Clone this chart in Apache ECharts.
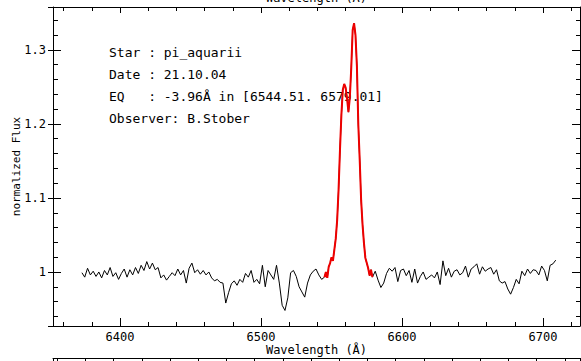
<!DOCTYPE html>
<html>
<head>
<meta charset="utf-8">
<script src="https://cdn.jsdelivr.net/npm/echarts@6/dist/echarts.min.js"></script>
<style>
  html, body { margin: 0; padding: 0; background: #fff; }
  #chart { width: 581px; height: 361px; }
</style>
</head>
<body>
<div id="chart"></div>
<script>
// wavelength (Å) and normalized flux
const WAVELENGTH = [
  6373, 6375, 6377, 6379, 6381, 6383, 6385, 6387, 6389, 6391,
  6393, 6395, 6397, 6399, 6401, 6403, 6405, 6407, 6409, 6411,
  6413, 6415, 6417, 6419, 6421, 6423, 6425, 6427, 6429, 6431,
  6433, 6435, 6437, 6439, 6441, 6443, 6445, 6447, 6449, 6451,
  6453, 6455, 6457, 6459, 6461, 6463, 6465, 6467, 6469, 6471,
  6473, 6475, 6477, 6479, 6481, 6483, 6485, 6487, 6489, 6491,
  6493, 6495, 6497, 6499, 6501, 6503, 6505, 6507, 6509, 6511,
  6513, 6515, 6517, 6519, 6521, 6523, 6525, 6527, 6529, 6531,
  6533, 6535, 6537, 6539, 6541, 6543,
  6545, 6546, 6547, 6548, 6549, 6550, 6551, 6552, 6553, 6554,
  6555, 6556, 6557, 6558, 6559, 6560, 6561, 6562, 6563, 6564,
  6565, 6566, 6567, 6568, 6569, 6570, 6571, 6572, 6573, 6574,
  6575, 6576, 6577, 6578, 6579,
  6581, 6583, 6585, 6587, 6589, 6591, 6593, 6595, 6597, 6599,
  6601, 6603, 6605, 6607, 6609, 6611, 6613, 6615, 6617, 6619,
  6621, 6623, 6625, 6627, 6629, 6631, 6633, 6635, 6637, 6639,
  6641, 6643, 6645, 6647, 6649, 6651, 6653, 6655, 6657, 6659,
  6661, 6663, 6665, 6667, 6669, 6671, 6673, 6675, 6677, 6679,
  6681, 6683, 6685, 6687, 6689, 6691, 6693, 6695, 6697, 6699,
  6701, 6703, 6705, 6707, 6709
];

const FLUX = [
  0.999, 0.993, 1.005, 0.996, 1.001, 0.994, 1.000, 0.992, 1.002, 0.996,
  1.006, 0.994, 0.999, 0.990, 0.998, 1.004, 0.993, 1.003, 0.996, 1.006,
  0.998, 1.009, 1.002, 1.014, 1.004, 1.012, 1.003, 1.006, 0.992, 0.996,
  0.989, 0.994, 0.999, 0.995, 1.004, 0.996, 1.002, 0.985, 1.005, 1.012,
  0.999, 1.003, 0.997, 1.002, 0.996, 1.000, 0.992, 0.988, 0.990, 0.986,
  0.985, 0.958, 0.972, 0.984, 0.988, 0.982, 0.990, 0.986, 0.998, 0.993,
  1.002, 0.986, 0.990, 0.984, 1.009, 0.980, 1.002, 0.996, 0.990, 1.009,
  0.985, 0.955, 0.948, 0.965, 0.999, 1.002, 0.994, 0.980, 0.973, 0.966,
  0.985, 0.996, 1.001, 1.004, 0.996, 0.990,
  0.993, 1.000, 0.992, 1.007, 1.012, 1.020, 1.015, 1.030, 1.045, 1.070,
  1.111, 1.165, 1.212, 1.246, 1.254, 1.249, 1.235, 1.216, 1.236, 1.276,
  1.327, 1.336, 1.320, 1.278, 1.199, 1.151, 1.097, 1.064, 1.039, 1.019,
  1.012, 1.005, 0.995, 1.003, 0.993,
  1.001, 0.989, 0.979, 0.985, 0.998, 1.005, 1.001, 1.006, 0.987, 1.002,
  1.004, 0.995, 1.002, 0.986, 1.004, 0.985, 0.994, 1.000, 0.990, 0.993,
  0.996, 0.992, 1.000, 0.983, 1.015, 0.995, 1.005, 0.993, 1.001, 1.003,
  0.996, 0.999, 1.008, 0.993, 1.004, 1.007, 1.011, 0.997, 1.007, 1.001,
  1.004, 1.006, 0.997, 1.003, 0.988, 0.985, 0.987, 0.977, 0.970, 0.979,
  0.990, 0.984, 1.001, 0.995, 1.004, 0.998, 1.003, 1.002, 0.996, 1.008,
  1.002, 0.988, 1.009, 1.011, 1.016
];

// integration window of the equivalent width (drawn in red)
const EQ_RANGE = [6544.51, 6579.01];

const INFO_LINES = [
  'Star : pi_aquarii',
  'Date : 21.10.04',
  'EQ   : -3.96Å in [6544.51. 6579.01]',
  'Observer: B.Stober'
];

const X_RANGE = [6352.5, 6726.2];
const Y_RANGE = [0.927, 1.358];
const NEXT_PANEL_X_RANGE = [6337, 6710.7];

const MONO = '"DejaVu Sans Mono", monospace';
const INK = '#000';

const spectrum = WAVELENGTH.map((w, i) => [w, FLUX[i]]);
const eqPart = spectrum.filter(([w]) => w >= EQ_RANGE[0] && w <= EQ_RANGE[1]);

const line = { show: true, onZero: false, lineStyle: { color: INK, width: 1 } };
const off = { show: false };
const plain = (v) => String(v);

const chart = echarts.init(document.getElementById('chart'), null, { renderer: 'svg' });

chart.setOption({
  animation: false,
  backgroundColor: '#fff',
  grid: [
    { left: 53, right: 1, top: 7, bottom: 35, outerBoundsMode: 'none', containLabel: false },
    { left: 53, right: 1, top: 358, height: 40, outerBoundsMode: 'none', containLabel: false }
  ],
  xAxis: [
    {
      gridIndex: 0, type: 'value', position: 'bottom',
      min: X_RANGE[0], max: X_RANGE[1],
      axisLine: line,
      axisTick: { inside: true, length: 8, lineStyle: { color: INK } },
      minorTick: { show: true, splitNumber: 5, length: 4, lineStyle: { color: INK } },
      splitLine: off,
      axisLabel: { color: INK, fontFamily: MONO, fontSize: 12, margin: 5, formatter: plain, showMinLabel: false, showMaxLabel: false },
      name: 'Wavelength (Å)', nameLocation: 'middle', nameGap: 18, nameMoveOverlap: false,
      nameTextStyle: { color: INK, fontFamily: MONO, fontSize: 12 }
    },
    {
      // the top title is cut by the picture's edge, as in the source plot
      gridIndex: 0, type: 'value', position: 'top',
      min: X_RANGE[0], max: X_RANGE[1],
      axisLine: line,
      axisTick: { inside: true, length: 6, lineStyle: { color: INK } },
      minorTick: { show: true, splitNumber: 5, length: 4, lineStyle: { color: INK } },
      splitLine: off,
      axisLabel: off,
      name: 'Wavelength (Å)', nameLocation: 'middle', nameGap: 3, nameMoveOverlap: false,
      nameTextStyle: { color: INK, fontFamily: MONO, fontSize: 12 }
    },
    {
      // top edge of the next panel, cut off by the picture
      gridIndex: 1, type: 'value', position: 'top',
      min: NEXT_PANEL_X_RANGE[0], max: NEXT_PANEL_X_RANGE[1],
      axisLine: line,
      axisTick: { inside: true, length: 4, lineStyle: { color: INK } },
      minorTick: { show: true, splitNumber: 5, length: 3, lineStyle: { color: INK } },
      splitLine: off,
      axisLabel: off
    }
  ],
  yAxis: [
    {
      gridIndex: 0, type: 'value', position: 'left',
      min: Y_RANGE[0], max: Y_RANGE[1],
      axisLine: line,
      axisTick: { inside: true, length: 8, lineStyle: { color: INK } },
      minorTick: { show: true, splitNumber: 5, length: 5, lineStyle: { color: INK } },
      splitLine: off,
      axisLabel: { color: INK, fontFamily: MONO, fontSize: 12, margin: 7, formatter: plain, showMinLabel: false, showMaxLabel: false },
      name: 'normalized Flux', nameLocation: 'middle', nameGap: 31, nameMoveOverlap: false,
      nameTextStyle: { color: INK, fontFamily: MONO, fontSize: 11 }
    },
    {
      gridIndex: 0, type: 'value', position: 'right',
      min: Y_RANGE[0], max: Y_RANGE[1],
      axisLine: line,
      axisTick: { inside: true, length: 8, lineStyle: { color: INK } },
      minorTick: { show: true, splitNumber: 5, length: 4, lineStyle: { color: INK } },
      splitLine: off,
      axisLabel: off
    },
    {
      // major ticks also poke out on the left
      gridIndex: 0, type: 'value', position: 'left',
      min: Y_RANGE[0], max: Y_RANGE[1],
      axisLine: off,
      axisTick: { inside: false, length: 5, lineStyle: { color: INK } },
      splitLine: off,
      axisLabel: off
    },
    { gridIndex: 1, type: 'value', min: 0, max: 1, show: false }
  ],
  graphic: INFO_LINES.map((t, i) => ({
    type: 'text',
    x: 109,
    y: 52 + i * 22,
    z: 0,
    style: { text: t, fill: INK, fontFamily: MONO, fontSize: 13, verticalAlign: 'middle' }
  })),
  series: [
    {
      name: 'spectrum',
      type: 'line',
      xAxisIndex: 0, yAxisIndex: 0,
      data: spectrum,
      showSymbol: false,
      z: 3,
      lineStyle: { color: INK, width: 1 }
    },
    {
      name: 'EQ window',
      type: 'line',
      xAxisIndex: 0, yAxisIndex: 0,
      data: eqPart,
      showSymbol: false,
      z: 4,
      lineStyle: { color: '#ee0000', width: 2 }
    }
  ]
});
</script>
</body>
</html>
